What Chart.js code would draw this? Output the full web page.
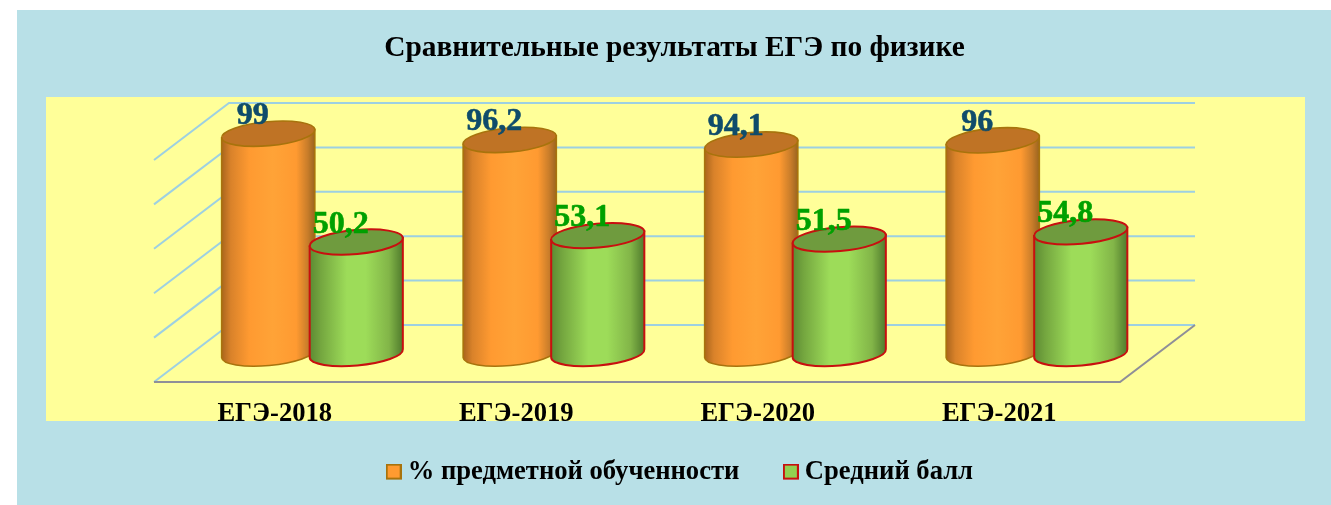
<!DOCTYPE html>
<html lang="ru">
<head>
<meta charset="utf-8">
<title>Сравнительные результаты ЕГЭ по физике</title>
<script src="https://cdn.jsdelivr.net/npm/chart.js@4/dist/chart.umd.min.js"></script>
<style>
html,body{margin:0;padding:0;background:#fff;overflow:hidden}
#wrap{position:absolute;left:17px;top:10px;width:1314px;height:495px;background:#b8e0e7}
canvas{display:block}
</style>
</head>
<body>
<div id="wrap"><canvas id="c" width="1314" height="495"></canvas></div>
<script>
const titleText = 'Сравнительные результаты ЕГЭ по физике';
const categories = ['ЕГЭ-2018', 'ЕГЭ-2019', 'ЕГЭ-2020', 'ЕГЭ-2021'];
const seriesNames = ['% предметной обученности', 'Средний балл'];
const learned = [99, 96.2, 94.1, 96];
const avgScore = [50.2, 53.1, 51.5, 54.8];
const yMin = 0, yMax = 100, yStep = 20;

const FONT = "'Liberation Serif', 'Times New Roman', serif";
const DX = 37.5, DY = 28.5;               // half of the floor's depth offset
const looks = [
  {fill:'#ff9b30', stroke:'#a8730c', top:'#bf7325', width:1.6, label:'#0f4c6b',
   stops:[[0,'#a8641c'],[0.1,'#d9822a'],[0.3,'#ff9a31'],[0.55,'#ffa337'],[0.8,'#ff9a31'],[0.92,'#c97d2a'],[1,'#99641f']]},
  {fill:'#92d050', stroke:'#c80f0f', top:'#6f9b3e', width:2, label:'#00a000',
   stops:[[0,'#5c8a33'],[0.12,'#74a63f'],[0.4,'#9ddc59'],[0.6,'#9ddc59'],[0.85,'#82b548'],[1,'#4f7a2c']]}
];

function legendBox(look){
  const s = document.createElement('canvas');
  s.width = 16; s.height = 18;
  const g = s.getContext('2d');
  g.fillStyle = look.fill; g.fillRect(1,1,14,14);
  g.strokeStyle = look.stroke; g.lineWidth = 2; g.strokeRect(1,1,14,14);
  return s;
}

function cylinder(ctx, el, look){
  const cx = el.x, rx = el.width/2, ry = 12, rot = -0.09;
  const topY = el.y, botY = el.base;
  const ex = rx*Math.cos(rot), ey = rx*Math.sin(rot);
  const grad = ctx.createLinearGradient(cx-rx,0,cx+rx,0);
  look.stops.forEach(s => grad.addColorStop(s[0], s[1]));
  ctx.beginPath();
  ctx.moveTo(cx-ex, topY-ey);
  ctx.lineTo(cx-ex, botY-ey);
  ctx.ellipse(cx, botY, rx, ry, rot, Math.PI, 0, true);
  ctx.lineTo(cx+ex, topY+ey);
  ctx.closePath();
  ctx.fillStyle = grad; ctx.fill();
  ctx.lineWidth = look.width; ctx.strokeStyle = look.stroke; ctx.stroke();
  ctx.beginPath();
  ctx.ellipse(cx, topY, rx, ry, rot, 0, Math.PI*2);
  ctx.fillStyle = look.top; ctx.fill();
  ctx.stroke();
}

const scene = {
  id:'scene',
  afterLayout(chart){
    chart.legend.top = 398.5;
    chart.legend.left += 8.5;
    chart.legend.right += 8.5;
    chart.scales.x.bottom = 495;
  },
  beforeDraw(chart){
    const ctx = chart.ctx;
    ctx.fillStyle = '#ffff99';
    ctx.fillRect(29, 87, 1259, 324);
  },
  beforeDatasetsDraw(chart){
    const ctx = chart.ctx, ys = chart.scales.y, a = chart.chartArea;
    ctx.save();
    ctx.lineWidth = 2; ctx.strokeStyle = '#9dd0e2';
    ys.ticks.forEach(t => {
      const y = ys.getPixelForValue(t.value);
      ctx.beginPath();
      ctx.moveTo(a.left-DX, y+DY);
      ctx.lineTo(a.left+DX, y-DY);
      ctx.lineTo(a.right+DX, y-DY);
      ctx.stroke();
    });
    const y0 = ys.getPixelForValue(yMin);
    ctx.strokeStyle = '#8f8f98';
    ctx.beginPath();
    ctx.moveTo(a.left-DX, y0+DY);
    ctx.lineTo(a.right-DX, y0+DY);
    ctx.lineTo(a.right+DX, y0-DY);
    ctx.stroke();

    chart.data.datasets.forEach((ds, i) => {
      chart.getDatasetMeta(i).data.forEach(el => cylinder(ctx, el, looks[i]));
    });
    ctx.font = 'bold 32px ' + FONT;
    ctx.textAlign = 'center'; ctx.textBaseline = 'middle';
    ctx.lineJoin = 'round';
    chart.data.datasets.forEach((ds, i) => {
      ctx.fillStyle = looks[i].label;
      ctx.strokeStyle = looks[i].label;
      ctx.lineWidth = 0.6;
      chart.getDatasetMeta(i).data.forEach((el, k) => {
        const txt = String(ds.data[k]).replace('.', ',');
        ctx.fillText(txt, el.x-15.5, el.y-17.8);
        ctx.strokeText(txt, el.x-15.5, el.y-17.8);
      });
    });
    ctx.restore();
    return false;
  }
};

new Chart(document.getElementById('c'), {
  type:'bar',
  data:{
    labels:categories,
    datasets:[
      {label:seriesNames[0], data:learned, backgroundColor:looks[0].fill, borderColor:looks[0].stroke,
       pointStyle:legendBox(looks[0]), categoryPercentage:0.729, barPercentage:1.0625},
      {label:seriesNames[1], data:avgScore, backgroundColor:looks[1].fill, borderColor:looks[1].stroke,
       pointStyle:legendBox(looks[1]), categoryPercentage:0.729, barPercentage:1.0625}
    ]
  },
  plugins:[scene],
  options:{
    responsive:false,
    animation:false,
    layout:{autoPadding:false, padding:{left:174.5, right:173.5, top:0, bottom:0}},
    plugins:{
      tooltip:{enabled:false},
      title:{display:true, text:titleText, color:'#000',
        font:{family:FONT, size:29.4, weight:'bold', lineHeight:1.2},
        padding:{top:20.5, bottom:65.7}},
      legend:{position:'bottom',
        labels:{usePointStyle:true, pointStyleWidth:1.4, padding:50.8, color:'#000',
          font:{family:FONT, size:26.6, weight:'bold'}}}
    },
    scales:{
      x:{
        grid:{display:false, drawTicks:false}, border:{display:false},
        ticks:{color:'#000', font:{family:FONT, size:26.6, weight:'bold'}, labelOffset:-DX, padding:44.5, maxRotation:0, autoSkip:false},
        afterFit(s){ s.height = 151.5 - s.chart.legend.height; }
      },
      y:{
        min:yMin, max:yMax,
        grid:{display:false, drawTicks:false}, border:{display:false},
        ticks:{display:false, stepSize:yStep},
        afterFit(s){ s.width = 0; }
      }
    }
  }
});
</script>
</body>
</html>
